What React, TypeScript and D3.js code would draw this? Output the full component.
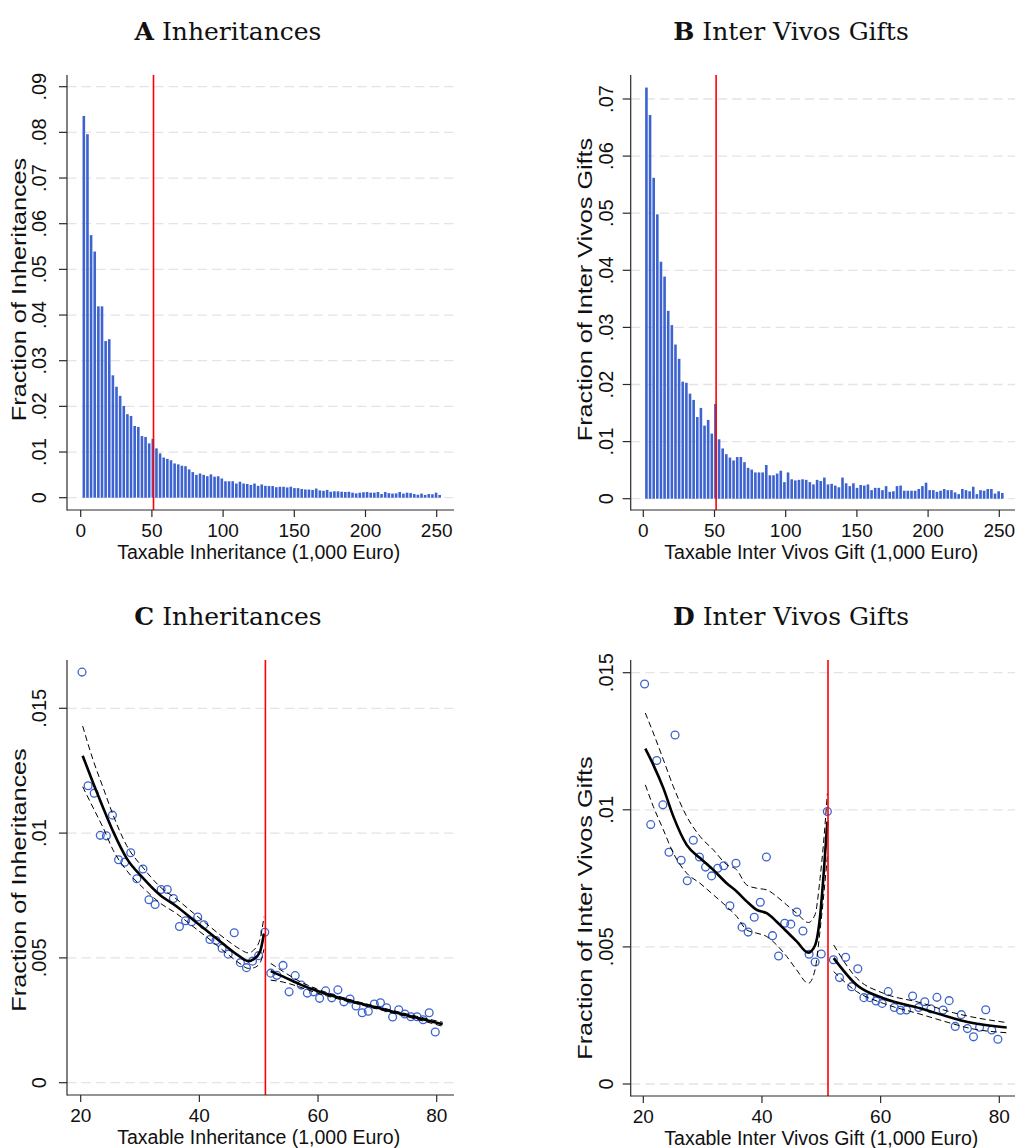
import React from 'react';
import * as d3 from 'd3';

const W = 1017;
const H = 1148;

// ---------- DATA ----------
// Histogram bins (1,000 Euro): centers of 99 equal-width bins
const binCenters = d3.range(99).map((i) => 2.2 + i * 2.55);

// Panel A: fraction of inheritances per bin (per mille)
const inheritPerMille = [
  83.6, 79.6, 57.5, 53.9, 41.9, 41.9, 34.3, 34.7, 26.8, 24.3,
  22.3, 20.1, 18.3, 17.9, 15.7, 15.5, 13.5, 13.3, 11.9, 12.9,
  10.8, 9.7, 8.8, 8.5, 8.2, 7.5, 7.3, 7.0, 6.9, 6.2,
  5.6, 5.0, 5.3, 5.0, 4.7, 5.1, 4.6, 4.7, 4.2, 3.6,
  3.6, 3.6, 3.1, 3.5, 3.1, 3.0, 2.8, 3.1, 2.6, 2.9,
  2.6, 2.55, 2.55, 2.3, 2.4, 2.4, 2.25, 2.4, 2.1, 2.1,
  1.9, 1.8, 1.8, 1.7, 2.0, 1.6, 1.5, 1.7, 1.3, 1.4,
  1.4, 1.3, 1.25, 1.3, 1.1, 0.95, 1.1, 1.2, 1.25, 1.1,
  1.1, 1.25, 0.8, 1.25, 1.0, 0.9, 0.95, 1.25, 0.9, 1.1,
  1.0, 0.8, 0.65, 0.9, 0.6, 0.8, 0.75, 1.1, 0.6,
];

// Panel B: fraction of inter vivos gifts per bin (per mille)
const giftPerMille = [
  72.0, 67.2, 56.2, 49.8, 41.5, 38.9, 32.9, 30.4, 27.0, 24.5,
  20.5, 20.3, 18.4, 17.3, 14.3, 15.9, 12.8, 13.8, 11.4, 16.6,
  10.4, 8.8, 7.8, 7.2, 6.7, 7.3, 7.3, 6.4, 5.4, 5.1,
  4.6, 4.6, 4.6, 5.9, 4.1, 4.1, 4.4, 4.9, 2.9, 4.6,
  3.4, 3.2, 3.3, 3.4, 3.3, 2.9, 2.5, 3.3, 3.1, 3.7,
  2.5, 2.6, 2.3, 2.0, 3.7, 2.7, 2.2, 2.7, 1.9, 2.4,
  2.3, 2.5, 1.5, 1.9, 1.9, 1.5, 2.2, 1.2, 1.3, 2.2,
  2.3, 1.4, 1.4, 1.4, 1.4, 1.7, 2.2, 2.8, 1.5, 1.5,
  1.2, 1.4, 1.7, 1.5, 1.5, 1.1, 0.8, 1.7, 1.5, 1.3,
  2.1, 0.8, 1.5, 1.4, 1.7, 1.7, 0.9, 1.3, 1.0,
];

// Zoomed bins (1,000 Euro) for panels C and D
const zoomBins = [
  20.22, 21.25, 22.27, 23.3, 24.33, 25.35, 26.38, 27.41, 28.43, 29.46,
  30.49, 31.51, 32.54, 33.56, 34.59, 35.62, 36.64, 37.67, 38.7, 39.72,
  40.75, 41.78, 42.8, 43.83, 44.86, 45.88, 46.91, 47.94, 48.96, 49.99,
  51.02, 52.04, 53.07, 54.1, 55.12, 56.15, 57.18, 58.2, 59.23, 60.26,
  61.28, 62.31, 63.34, 64.36, 65.39, 66.41, 67.44, 68.47, 69.49, 70.52,
  71.55, 72.57, 73.6, 74.63, 75.65, 76.68, 77.71, 78.73, 79.76,
];

const inheritZoom = [
  16.45, 11.9, 11.6, 9.91, 9.89, 10.72, 8.93, 8.83, 9.21, 8.17,
  8.56, 7.33, 7.14, 7.74, 7.74, 7.38, 6.26, 6.49, 6.45, 6.64,
  6.33, 5.74, 5.7, 5.39, 5.15, 6.01, 4.81, 4.61, 4.87, 5.09,
  6.03, 4.39, 4.3, 4.7, 3.64, 4.29, 3.91, 3.59, 3.64, 3.38,
  3.68, 3.4, 3.72, 3.24, 3.35, 3.07, 2.8, 2.86, 3.15, 3.2,
  3.0, 2.63, 2.92, 2.75, 2.64, 2.64, 2.52, 2.8, 2.03,
];

const giftZoom = [
  14.59, 9.46, 11.8, 10.18, 8.45, 12.73, 8.16, 7.41, 8.89, 8.28,
  7.91, 7.59, 7.87, 7.96, 6.5, 8.05, 5.72, 5.54, 6.08, 6.63,
  8.28, 5.41, 4.67, 5.86, 5.83, 6.27, 5.58, 4.73, 4.45, 4.74,
  9.94, 4.53, 3.88, 4.62, 3.55, 4.2, 3.15, 3.15, 3.03, 2.94,
  3.37, 2.79, 2.69, 2.7, 3.21, 2.79, 3.0, 2.74, 3.16, 2.7,
  3.04, 2.1, 2.53, 2.02, 1.72, 2.07, 2.71, 1.97, 1.63,
];

// Local polynomial fits with 95% bands (per mille)
const fitCLeftX = [20.33, 22.13, 23.81, 25.5, 27.75, 30.56, 33.37, 36.18, 38.98, 41.79, 44.6, 46.85, 48.25, 49.1, 50.22, 50.89];
const fitCLeft = [13.1, 11.99, 11.0, 10.05, 8.99, 8.19, 7.52, 7.06, 6.52, 5.99, 5.45, 5.05, 4.87, 4.94, 5.25, 5.98];
const fitCLeftHi = [14.29, 12.9, 11.8, 10.7, 9.5, 8.6, 7.85, 7.35, 6.8, 6.25, 5.72, 5.35, 5.2, 5.3, 5.75, 6.65];
const fitCLeftLo = [11.86, 11.0, 10.2, 9.3, 8.5, 7.8, 7.2, 6.77, 6.25, 5.73, 5.18, 4.77, 4.58, 4.6, 4.8, 5.35];

const fitCRightX = [52.02, 54.15, 56.96, 59.77, 65.39, 71.0, 76.63, 81.0];
const fitCRight = [4.47, 4.25, 3.94, 3.68, 3.28, 2.94, 2.6, 2.34];
const fitCRightHi = [4.78, 4.45, 4.05, 3.76, 3.33, 2.99, 2.66, 2.42];
const fitCRightLo = [4.11, 4.03, 3.83, 3.6, 3.23, 2.89, 2.54, 2.26];

const fitDLeftX = [20.34, 21.69, 23.38, 25.06, 27.31, 29.56, 31.8, 34.05, 35.74, 37.42, 39.11, 40.79, 42.48, 44.17, 45.85, 47.82, 48.94, 49.79, 50.46, 51.02];
const fitDLeft = [12.23, 11.64, 10.79, 9.76, 8.72, 8.24, 7.81, 7.32, 7.02, 6.66, 6.35, 6.23, 5.92, 5.56, 5.2, 4.79, 5.05, 6.11, 7.85, 9.57];
const fitDLeftHi = [13.53, 12.8, 11.83, 10.85, 9.76, 9.03, 8.54, 8.0, 7.81, 7.26, 7.14, 7.08, 6.84, 6.53, 6.23, 5.89, 6.17, 7.5, 9.0, 10.6];
const fitDLeftLo = [10.91, 10.12, 9.27, 8.42, 7.69, 7.32, 6.9, 6.47, 6.11, 5.62, 5.5, 5.38, 5.07, 4.65, 4.16, 3.67, 4.16, 5.6, 7.0, 8.3];

const fitDRightX = [52.09, 55.97, 60.46, 66.64, 72.26, 75.07, 81.25];
const fitDRight = [4.59, 3.61, 3.13, 2.76, 2.4, 2.24, 2.06];
const fitDRightHi = [5.07, 3.86, 3.31, 2.97, 2.6, 2.46, 2.24];
const fitDRightLo = [4.1, 3.37, 2.94, 2.55, 2.19, 2.03, 1.87];

const threshold = 51.13;

const histXTicks = [0, 50, 100, 150, 200, 250];
const zoomXTicks = [20, 40, 60, 80];
const yTicksA = [0, 10, 20, 30, 40, 50, 60, 70, 80, 90];
const yLabelsA = ['0', '.01', '.02', '.03', '.04', '.05', '.06', '.07', '.08', '.09'];
const yTicksB = [0, 10, 20, 30, 40, 50, 60, 70];
const yLabelsB = ['0', '.01', '.02', '.03', '.04', '.05', '.06', '.07'];
const yTicksCD = [0, 5, 10, 15];
const yLabelsCD = ['0', '.005', '.01', '.015'];

// ---------- STYLE ----------
const BLUE = '#3c63cf';
const GRID = '#e4e4e4';
const AXIS = '#2a2a2a';
const SANS = "'Liberation Sans', Arial, Helvetica, sans-serif";
const SERIF = "'DejaVu Serif', Georgia, serif";

type PanelCfg = {
  letter: string;
  title: string;
  left: number;
  right: number;
  top: number;
  bottom: number;
  xDomain: [number, number];
  xRange: [number, number];
  yDomain: [number, number];
  yRange: [number, number];
  xTicks: number[];
  yTicks: number[];
  yLabels: string[];
  xTitle: string;
  yTitle: string;
  titleX: number;
  titleY: number;
  yLabelX: number;
  yTitleX: number;
  yTitleY: number;
};

const cfgA: PanelCfg = {
  letter: 'A', title: 'Inheritances',
  left: 67, right: 454, top: 75, bottom: 510,
  xDomain: [0, 250], xRange: [80.7, 436.7],
  yDomain: [0, 90], yRange: [497.7, 86.7],
  xTicks: histXTicks, yTicks: yTicksA, yLabels: yLabelsA,
  xTitle: 'Taxable Inheritance (1,000 Euro)', yTitle: 'Fraction of Inheritances',
  titleX: 228, titleY: 39.5, yLabelX: 46, yTitleX: 26, yTitleY: 289.5,
};
const cfgB: PanelCfg = {
  letter: 'B', title: 'Inter Vivos Gifts',
  left: 630.7, right: 1015, top: 75, bottom: 510,
  xDomain: [0, 250], xRange: [643.3, 999.3],
  yDomain: [0, 70], yRange: [498.7, 99],
  xTicks: histXTicks, yTicks: yTicksB, yLabels: yLabelsB,
  xTitle: 'Taxable Inter Vivos Gift (1,000 Euro)', yTitle: 'Fraction of Inter Vivos Gifts',
  titleX: 791, titleY: 39.5, yLabelX: 613, yTitleX: 591.5, yTitleY: 289.5,
};
const cfgC: PanelCfg = {
  letter: 'C', title: 'Inheritances',
  left: 67, right: 454, top: 660, bottom: 1095,
  xDomain: [20, 80], xRange: [80.7, 436.7],
  yDomain: [0, 15], yRange: [1082.7, 708.3],
  xTicks: zoomXTicks, yTicks: yTicksCD, yLabels: yLabelsCD,
  xTitle: 'Taxable Inheritance (1,000 Euro)', yTitle: 'Fraction of Inheritances',
  titleX: 228, titleY: 625, yLabelX: 46, yTitleX: 26, yTitleY: 880,
};
const cfgD: PanelCfg = {
  letter: 'D', title: 'Inter Vivos Gifts',
  left: 630.7, right: 1015, top: 660, bottom: 1096,
  xDomain: [20, 80], xRange: [643.3, 999.3],
  yDomain: [0, 15], yRange: [1084, 672.7],
  xTicks: zoomXTicks, yTicks: yTicksCD, yLabels: yLabelsCD,
  xTitle: 'Taxable Inter Vivos Gift (1,000 Euro)', yTitle: 'Fraction of Inter Vivos Gifts',
  titleX: 791, titleY: 625, yLabelX: 613, yTitleX: 591.5, yTitleY: 908,
};

function scalesOf(c: PanelCfg) {
  const x = d3.scaleLinear().domain(c.xDomain).range(c.xRange);
  const y = d3.scaleLinear().domain(c.yDomain).range(c.yRange);
  return { x, y };
}

function Frame({ c, children }: { c: PanelCfg; children?: React.ReactNode }) {
  const { x, y } = scalesOf(c);
  return (
    <g>
      <text x={c.titleX} y={c.titleY} textAnchor="middle" fontFamily={SERIF} fontSize={25} fill="#111">
        <tspan fontWeight="bold">{c.letter}</tspan>
        <tspan> {c.title}</tspan>
      </text>
      {c.yTicks.map((t) => (
        <line key={'g' + t} x1={c.left} x2={c.right} y1={y(t)} y2={y(t)} stroke={GRID} strokeWidth={1.3} strokeDasharray="9.5,5" />
      ))}
      {children}
      <line x1={x(threshold)} x2={x(threshold)} y1={c.top} y2={c.bottom} stroke="#ff0000" strokeWidth={1.6} />
      <line x1={c.left} x2={c.left} y1={c.top} y2={c.bottom + 0.5} stroke={AXIS} strokeWidth={1.2} />
      <line x1={c.left} x2={c.right} y1={c.bottom} y2={c.bottom} stroke={AXIS} strokeWidth={1.2} />
      {c.yTicks.map((t, i) => (
        <g key={'yt' + t}>
          <line x1={c.left - 8} x2={c.left} y1={y(t)} y2={y(t)} stroke={AXIS} strokeWidth={1.2} />
          <text transform={`translate(${c.yLabelX},${y(t)}) rotate(-90)`} textAnchor="middle" fontFamily={SANS} fontSize={20} fill="#111">
            {c.yLabels[i]}
          </text>
        </g>
      ))}
      {c.xTicks.map((t) => (
        <g key={'xt' + t}>
          <line x1={x(t)} x2={x(t)} y1={c.bottom} y2={c.bottom + 7} stroke={AXIS} strokeWidth={1.2} />
          <text x={x(t)} y={c.bottom + 26.5} textAnchor="middle" fontFamily={SANS} fontSize={19} fill="#111">
            {t}
          </text>
        </g>
      ))}
      <text x={(c.xRange[0] + c.xRange[1]) / 2} y={c.bottom + 48.5} textAnchor="middle" fontFamily={SANS} fontSize={19.5} fill="#111">
        {c.xTitle}
      </text>
      <text transform={`translate(${c.yTitleX},${c.yTitleY}) rotate(-90) scale(1.2,1)`} textAnchor="middle" fontFamily={SANS} fontSize={21} fill="#111">
        {c.yTitle}
      </text>
    </g>
  );
}

function Histogram({ c, values }: { c: PanelCfg; values: number[] }) {
  const { x, y } = scalesOf(c);
  const bw = 2.6;
  return (
    <Frame c={c}>
      {values.map((v, i) => (
        <rect key={i} x={x(binCenters[i]) - bw / 2} y={y(v)} width={bw} height={y(0) - y(v)} fill={BLUE} />
      ))}
    </Frame>
  );
}

type Fit = { xs: number[]; mid: number[]; hi: number[]; lo: number[] };

function Scatter({ c, values, fits }: { c: PanelCfg; values: number[]; fits: Fit[] }) {
  const { x, y } = scalesOf(c);
  const mk = (xs: number[], ys: number[]) =>
    d3
      .line<number>()
      .x((_, i) => x(xs[i]))
      .y((d) => y(d))
      .curve(d3.curveMonotoneX)(ys) || '';
  return (
    <Frame c={c}>
      {values.map((v, i) => (
        <circle key={i} cx={x(zoomBins[i])} cy={y(v)} r={3.9} fill="none" stroke={BLUE} strokeWidth={1.3} />
      ))}
      {fits.map((f, k) => (
        <g key={k}>
          <path d={mk(f.xs, f.hi)} fill="none" stroke="#000" strokeWidth={1} strokeDasharray="6,3.5" />
          <path d={mk(f.xs, f.lo)} fill="none" stroke="#000" strokeWidth={1} strokeDasharray="6,3.5" />
          <path d={mk(f.xs, f.mid)} fill="none" stroke="#000" strokeWidth={2.6} />
        </g>
      ))}
    </Frame>
  );
}

export default function App() {
  return (
    <svg width={W} height={H} viewBox={`0 0 ${W} ${H}`} style={{ position: 'absolute', left: 0, top: 0, background: '#fff' }}>
      <rect x={0} y={0} width={W} height={H} fill="#fff" />
      <Histogram c={cfgA} values={inheritPerMille} />
      <Histogram c={cfgB} values={giftPerMille} />
      <Scatter
        c={cfgC}
        values={inheritZoom}
        fits={[
          { xs: fitCLeftX, mid: fitCLeft, hi: fitCLeftHi, lo: fitCLeftLo },
          { xs: fitCRightX, mid: fitCRight, hi: fitCRightHi, lo: fitCRightLo },
        ]}
      />
      <Scatter
        c={cfgD}
        values={giftZoom}
        fits={[
          { xs: fitDLeftX, mid: fitDLeft, hi: fitDLeftHi, lo: fitDLeftLo },
          { xs: fitDRightX, mid: fitDRight, hi: fitDRightHi, lo: fitDRightLo },
        ]}
      />
    </svg>
  );
}
